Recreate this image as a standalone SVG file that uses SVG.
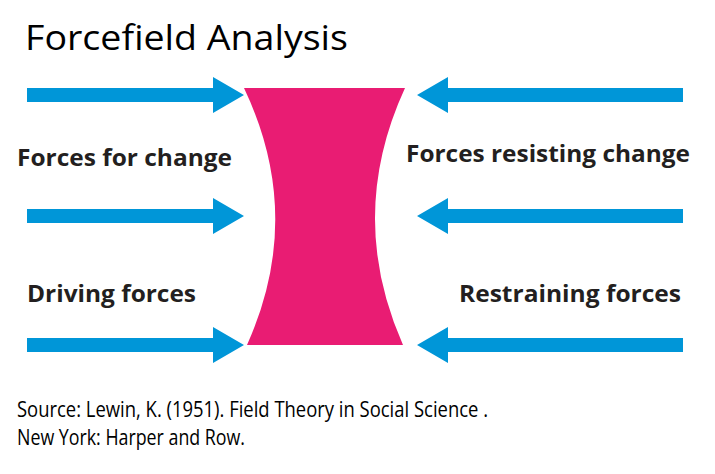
<svg xmlns="http://www.w3.org/2000/svg" width="715" height="474" viewBox="0 0 715 474">
<style>
.arrow{fill:#0096D8}
.lbl{font-family:"Open Sans","Liberation Sans",sans-serif;font-weight:bold;font-size:23px;fill:#231F20}
.plain{font-family:"Open Sans","Liberation Sans",sans-serif;fill:#000}
</style>
<defs>
<path id="ra" d="M0,-7 L186,-7 L186,-18 L217,0 L186,18 L186,7 L0,7 Z"/>
<path id="la" d="M0,-7 L-235,-7 L-235,-18 L-266,0 L-235,18 L-235,7 L0,7 Z"/>
</defs>
<rect width="715" height="474" fill="#fff"/>
<text class="plain" x="25" y="50" font-size="35" textLength="323" lengthAdjust="spacingAndGlyphs">Forcefield Analysis</text>
<g id="barrier">
<path d="M244,88 L405,88 Q346,216 403,345 L247,345 Q305,216 244,88 Z" fill="#E91C73"/>
</g>
<g id="connectors">
<use href="#ra" class="arrow" x="27" y="95"/>
<use href="#ra" class="arrow" x="27" y="216"/>
<use href="#ra" class="arrow" x="27" y="345"/>
<use href="#la" class="arrow" x="683" y="95"/>
<use href="#la" class="arrow" x="683" y="216"/>
<use href="#la" class="arrow" x="683" y="345"/>
</g>
<g id="forces-for-change"><text class="lbl" x="17" y="166" textLength="215" lengthAdjust="spacingAndGlyphs">Forces for change</text></g>
<g id="forces-resisting-change"><text class="lbl" x="406" y="162" textLength="284" lengthAdjust="spacingAndGlyphs">Forces resisting change</text></g>
<g id="driving-forces"><text class="lbl" x="27" y="302" textLength="169" lengthAdjust="spacingAndGlyphs">Driving forces</text></g>
<g id="restraining-forces"><text class="lbl" x="459" y="302" textLength="222" lengthAdjust="spacingAndGlyphs">Restraining forces</text></g>
<g id="source">
<text class="plain" x="17" y="417" font-size="22" textLength="471" lengthAdjust="spacingAndGlyphs">Source: Lewin, K. (1951). Field Theory in Social Science .</text>
<text class="plain" x="17" y="445" font-size="22" textLength="228" lengthAdjust="spacingAndGlyphs">New York: Harper and Row.</text>
</g>
</svg>
